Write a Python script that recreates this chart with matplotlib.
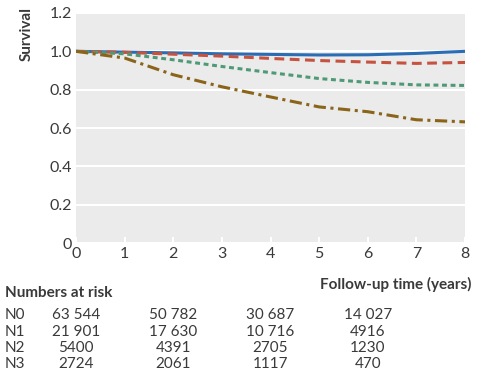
import matplotlib
matplotlib.use("Agg")
import matplotlib.pyplot as plt
import matplotlib.transforms as mtransforms

plt.rcParams['font.family'] = ['Lato', 'DejaVu Sans']
txt = '#3a3a3a'

# survival curves
years = [0, 1, 2, 3, 4, 5, 6, 7, 8]
n0 = [1.0, 0.996, 0.992, 0.987, 0.984, 0.981, 0.982, 0.989, 1.0]
n1 = [1.0, 0.995, 0.985, 0.975, 0.963, 0.952, 0.944, 0.937, 0.942]
n2 = [1.0, 0.987, 0.956, 0.921, 0.889, 0.858, 0.838, 0.825, 0.822]
n3 = [1.0, 0.965, 0.878, 0.815, 0.762, 0.71, 0.685, 0.643, 0.632]

# numbers at risk table
risk_years = [0, 2, 4, 6]
risk_groups = ['N0', 'N1', 'N2', 'N3']
risk_counts = [
    ['63 544', '50 782', '30 687', '14 027'],
    ['21 901', '17 630', '10 716', '4916'],
    ['5400', '4391', '2705', '1230'],
    ['2724', '2061', '1117', '470'],
]

fig = plt.figure(figsize=(4.78, 3.79), dpi=100)
ax = fig.add_axes([76/478, 1-243/379, (465-76)/478, (243-13)/379])
ax.set_facecolor('#ebebeb')

ax.plot(years, n0, color='#2a6db5', lw=2.2, solid_capstyle='butt')
ax.plot(years, n1, color='#c5533f', lw=2.2, ls=(0, (3.2, 1.8)))
ax.plot(years, n2, color='#4e9a76', lw=2.2, ls=(0, (1.6, 1.2)))
ax.plot(years, n3, color='#8a6418', lw=2.2, ls=(0, (4, 1.5, 1, 1.5)))

ax.set_xlim(0, 8)
ax.set_ylim(0, 1.2)
ax.set_xticks(range(9))
ax.set_yticks([0, 0.2, 0.4, 0.6, 0.8, 1.0, 1.2])
ax.set_yticklabels(['0', '0.2', '0.4', '0.6', '0.8', '1.0', '1.2'])
ax.grid(axis='y', color='white', lw=1.5)
ax.set_axisbelow(True)
for s in ax.spines.values():
    s.set_visible(False)
ax.tick_params(axis='x', direction='in', color='white', length=4, width=1.5,
               labelsize=11.5, labelcolor=txt, pad=3)
ax.tick_params(axis='y', length=0, labelsize=11.5, labelcolor=txt, pad=3)

fig.text(27/478, 1-7/379, 'Survival', rotation=90, ha='center', va='top',
         fontsize=11, fontweight='bold', color=txt)
fig.text(471/478, 1-284/379, 'Follow-up time (years)', ha='right', va='center',
         fontsize=11, fontweight='bold', color=txt)
fig.text(5/478, 1-293/379, 'Numbers at risk', ha='left', va='center',
         fontsize=11, fontweight='bold', color=txt)

trans = mtransforms.blended_transform_factory(ax.transData, fig.transFigure)
row_y = [315, 332, 348, 364]
for g, counts, yy in zip(risk_groups, risk_counts, row_y):
    fig.text(5/478, 1-yy/379, g, ha='left', va='center', fontsize=11, color=txt)
    for t, c in zip(risk_years, counts):
        fig.text(t, 1-yy/379, c, transform=trans, ha='center', va='center',
                 fontsize=11, color=txt)

fig.savefig('out.png', dpi=100)
